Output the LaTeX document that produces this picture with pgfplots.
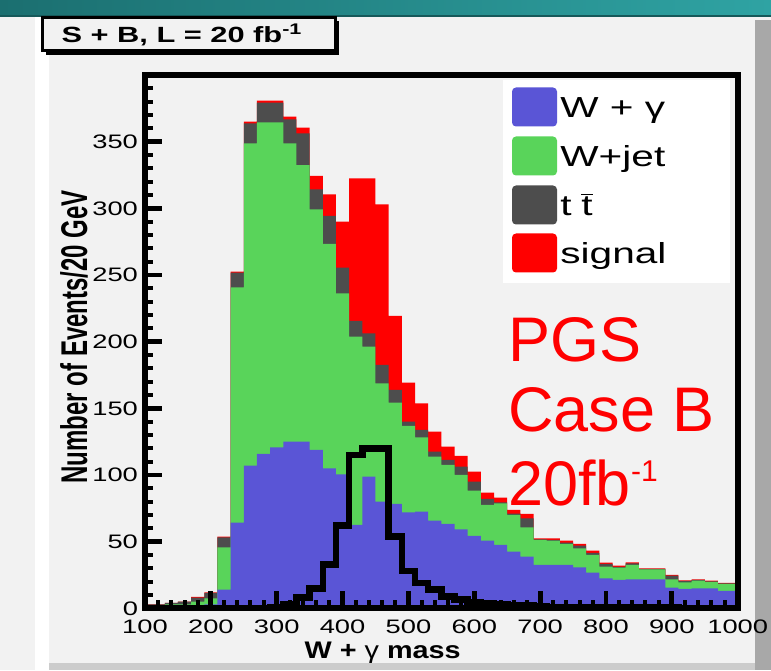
\documentclass[border=0pt]{standalone}
\usepackage{fontspec}
\setmainfont{Liberation Sans}
% ROOT-style text is set wide
\newfontfamily\rootfont{Liberation Sans}[FakeStretch=1.4]
\newfontfamily\rootwide{Liberation Sans}[FakeStretch=1.2]
\usepackage{graphicx}
\usepackage{pgfplots}
\usepackage{pgfplotstable}
\pgfplotsset{compat=1.18}

\definecolor{canvas}{HTML}{F2F2F2}
\definecolor{wgam}{HTML}{5A55D6}
\definecolor{wjet}{HTML}{59D45A}
\definecolor{ttbar}{HTML}{4D4D4D}
\definecolor{sig}{HTML}{FF0000}
\definecolor{tealdark}{HTML}{1B6F70}
\definecolor{teallight}{HTML}{2FA3A3}
\definecolor{sidebar}{HTML}{A8A8A8}

% 20 GeV bins: lower edge, W+gamma, W+jet, ttbar, signal (stacked), signal alone (outline)
\pgfplotstableread{
m    wg      wj      tt     sig     out
90   1       1       1      0       0
110  1       1       1      0       0
130  1       2       1      0       0
150  1.5     1.5     2      0       0
170  2       3       3      0.5     0
190  3       4.5     4      0.5     0
210  14      31.75   7.5    0.5     0
230  64.25   176.5   11     0.75    0
250  107     241.75  15     1.25    0
270  115.75  248.75  14.75  1.5     0
290  120.75  243.75  14.75  1.5     1
310  125     223.75  18     2       3
330  125     207.5   23.75  4.25    8
350  118.75  180.5   15     10      15
370  105     168.25  21     16.25   33
390  100.5   135.75  19.25  34.5    62
410  62.5    141.25  11.85  106.9   115
430  98.75   97.5    10     116.25  120
450  80      88.75   13.75  120.5   120
470  78.25   76      9.5    55.5    54
490  72      64.75   3.25   29.25   28
510  72.5    55.75   5.5    20      19
530  65.75   48      3.75   15      14
550  63.25   44.25   3.75   10      9
570  59.25   40.75   6.25   8       6.5
590  54.25   34      6.75   7.5     4.5
610  50.75   26.75   4.5    4.75    4
630  47.5    31.25   0.75   3.5     3
650  42.5    27.5    1      2.75    2.5
670  38.75   22      6.75   3.25    2
690  32.5    18.75   0.5    0.75    1.5
710  32.5    18.25   0.5    1.25    1
730  32.5    15.75   1      1.5     1
750  30.75   14.25   2      1.25    1
770  26.75   13.25   1.5    1.75    0.5
790  22.5    8.75    2      1       0.5
810  21.25   9.25    0.5    1       0.5
830  21.75   10.75   1.25   0.75    0.5
850  21.75   7.5     0.25   0.5     0.5
870  21.75   7.5     0.25   0.5     0.5
890  15.5    6.25    2.75   0.5     0.5
910  14.5    5       1      0.5     0
930  15      5.75    0.5    0.5     0
950  15      4.75    0.5    0.5     0
970  13      5.25    0.5    0.25    0
990  13      5.25    0.5    0.25    0
1010 13      5.25    0.5    0.25    0
}\hist
% cumulative heights of the stack
\pgfplotstablecreatecol[create col/expr={\thisrow{wg}+\thisrow{wj}}]{c2}{\hist}
\pgfplotstablecreatecol[create col/expr={\thisrow{c2}+\thisrow{tt}}]{c3}{\hist}
\pgfplotstablecreatecol[create col/expr={\thisrow{c3}+\thisrow{sig}}]{c4}{\hist}

\pgfplotsset{
  histaxis/.style={
    at={(72.5pt,30.85pt)}, anchor=south west,
    width=296.35pt, height=266.65pt, scale only axis,
    xmin=100, xmax=1000, ymin=0, ymax=400,
  },
}

\begin{document}
\begin{tikzpicture}[x=1pt,y=1pt]
\path[use as bounding box] (0,0) rectangle (385.5,335);
% canvas and frame decoration
\fill[canvas] (0,0) rectangle (385.5,335);
\fill[white] (17.5,0) rectangle (24.5,326.5);
\fill[sidebar] (377.5,0) rectangle (385.5,325);
\fill[gray!40] (24.5,0) rectangle (377.5,3.5);
\shade[left color=tealdark, right color=teallight] (0,326.5) rectangle (385.5,335);
\fill[tealdark!80!black] (0,326.5) rectangle (385.5,327.5);

% stacked histogram
\begin{axis}[histaxis, hide axis]
  \addplot[const plot mark left, fill=sig, draw=none] table[x=m, y=c4]{\hist} \closedcycle;
  \addplot[const plot mark left, fill=ttbar, draw=none] table[x=m, y=c3]{\hist} \closedcycle;
  \addplot[const plot mark left, fill=wjet, draw=none] table[x=m, y=c2]{\hist} \closedcycle;
  \addplot[const plot mark left, fill=wgam, draw=none] table[x=m, y=wg]{\hist} \closedcycle;
\end{axis}

% signal outline, frame, ticks and titles
\begin{axis}[histaxis,
  axis on top,
  axis line style={line width=3pt, black},
  tick align=inside,
  xtick pos=left, ytick pos=left,
  xtick={100,200,...,1000}, ytick={0,50,...,350},
  minor xtick={120,140,...,980}, minor ytick={10,20,...,390},
  major tick length=8.5pt, minor tick length=4pt,
  major tick style={line width=2.4pt, black},
  minor tick style={line width=2pt, black},
  tick label style={font=\rootfont\fontsize{9.75}{11}\selectfont},
  /pgf/number format/assume math mode=true,
  /pgf/number format/1000 sep={},
  xticklabel style={yshift=-2.5pt},
  xlabel={W + {\mdseries γ} mass},
  xlabel style={at={(axis description cs:0.401,-0.0838)}, anchor=center,
    inner sep=0pt, font=\rootwide\bfseries\fontsize{12}{14}\selectfont},
  ylabel={\scalebox{1}[1.55]{Number of Events/20 GeV}},
  ylabel style={at={(axis description cs:-0.1198,0.509)}, anchor=center,
    font=\bfseries\fontsize{12}{14}\selectfont},
]
  \addplot[const plot mark left, black, line width=3.3pt, line join=miter]
    table[x=m, y=out]{\hist};
\end{axis}

% title box
\fill[black] (23,307.5) rectangle (169.5,324.5);
\filldraw[fill=canvas, draw=black, line width=1.5pt] (21,309.5) rectangle (167.5,326);
\node[font=\rootfont\bfseries\fontsize{11}{13}\selectfont] at (91,317.5)
  {S + B, L = 20 fb\textsuperscript{-1}};

% legend
\fill[white] (251.5,193.5) rectangle (365,295);
\foreach \c/\yc/\t in {wgam/281.5/{W + γ}, wjet/257/{W+jet}, ttbar/232.5/{t\,\,$\overline{\mbox{t}}$}, sig/208.5/{signal}}{
  \fill[\c, rounded corners=2pt] (256,\yc-9.75) rectangle (278.5,\yc+9.75);
  \node[anchor=west, inner sep=0pt, text height=10.5pt, text depth=0pt,
        font=\rootfont\fontsize{14.5}{17}\selectfont] at (280,\yc) {\t};
}

% annotation
\begin{scope}[every node/.style={anchor=base west, inner sep=0pt, text=sig,
    font=\fontsize{31.5}{36}\selectfont}]
  \node at (254,154) {PGS};
  \node at (254,119) {Case B};
  \node at (254,82.5) {20fb\raisebox{12pt}{\fontsize{15}{15}\selectfont -1}};
\end{scope}
\end{tikzpicture}
\end{document}
